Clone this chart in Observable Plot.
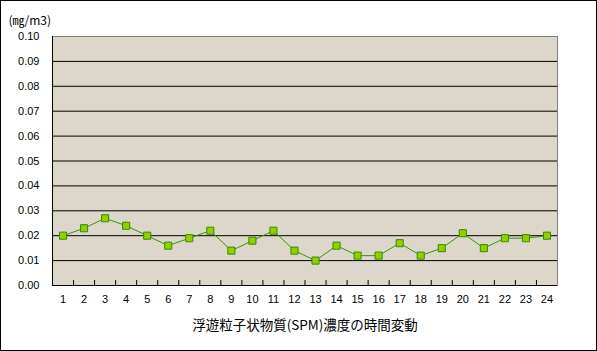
<!DOCTYPE html>
<html>
<head>
<meta charset="utf-8">
<script src="https://cdn.jsdelivr.net/npm/d3@7"></script>
<script src="https://cdn.jsdelivr.net/npm/@observablehq/plot@0.6"></script>
<style>
  html, body { margin: 0; padding: 0; background: #fff; }
</style>
</head>
<body>
<div id="chart"></div>
<script>
const hours = [1,2,3,4,5,6,7,8,9,10,11,12,13,14,15,16,17,18,19,20,21,22,23,24];
const spm = [0.020,0.023,0.027,0.024,0.020,0.016,0.019,0.022,0.014,0.018,0.022,0.014,0.010,0.016,0.012,0.012,0.017,0.012,0.015,0.021,0.015,0.019,0.019,0.020];
const yTicks = [0,0.01,0.02,0.03,0.04,0.05,0.06,0.07,0.08,0.09,0.10];
const gridLines = [0.01,0.02,0.03,0.04,0.05,0.06,0.07,0.08,0.09];
const unitLabel = "(㎎/m3)";
const chartTitle = "浮遊粒子状物質(SPM)濃度の時間変動";

const data = hours.map((h, i) => ({hour: h, value: spm[i]}));
const boundaries = hours.slice(0, -1).map(h => h + 0.5);

const chart = Plot.plot({
  width: 597,
  height: 351,
  marginLeft: 52,
  marginRight: 40,
  marginTop: 36,
  marginBottom: 66,
  style: {fontFamily: "'Liberation Sans', 'Noto Sans CJK JP', sans-serif", fontSize: "11px", color: "#000", background: "#fff"},
  x: {domain: [0.5, 24.5]},
  y: {domain: [0, 0.10]},
  marks: [
    Plot.frame({fill: "#ddd6ca", stroke: "#808080"}),
    Plot.ruleY(gridLines, {stroke: "#000", strokeWidth: 1}),
    Plot.ruleY([0], {stroke: "#000", strokeWidth: 1}),
    Plot.frame({anchor: "left", stroke: "#000"}),
    Plot.ruleX(boundaries, {y1: 0, y2: 0.002, stroke: "#000"}),
    Plot.axisY({ticks: yTicks, tickFormat: d3.format(".2f"), tickSize: 0, tickPadding: 13, label: null, fontSize: 11}),
    Plot.axisX({ticks: hours, tickFormat: d => String(d), tickSize: 0, tickPadding: 10, label: null, fontSize: 11}),
    Plot.line(data, {x: "hour", y: "value", stroke: "#339900", strokeWidth: 1}),
    Plot.dot(data, {x: "hour", y: "value", symbol: "square", r: 4, fill: "#99cc00", stroke: "#2f8f00", strokeWidth: 1}),
    Plot.text([unitLabel], {frameAnchor: "top-left", textAnchor: "start", dx: -44, dy: -20, fontSize: 12, fill: "#000", fontFamily: "'Noto Sans CJK JP', sans-serif"}),
    Plot.text([chartTitle], {frameAnchor: "bottom", dy: 44, fontSize: 13.5, fill: "#000", fontFamily: "'Noto Sans CJK JP', sans-serif"})
  ]
});

d3.select(chart).append("rect")
  .attr("x", 0.5).attr("y", 0.5)
  .attr("width", 596).attr("height", 350)
  .attr("fill", "none").attr("stroke", "#000");

document.getElementById("chart").appendChild(chart);
</script>
</body>
</html>
